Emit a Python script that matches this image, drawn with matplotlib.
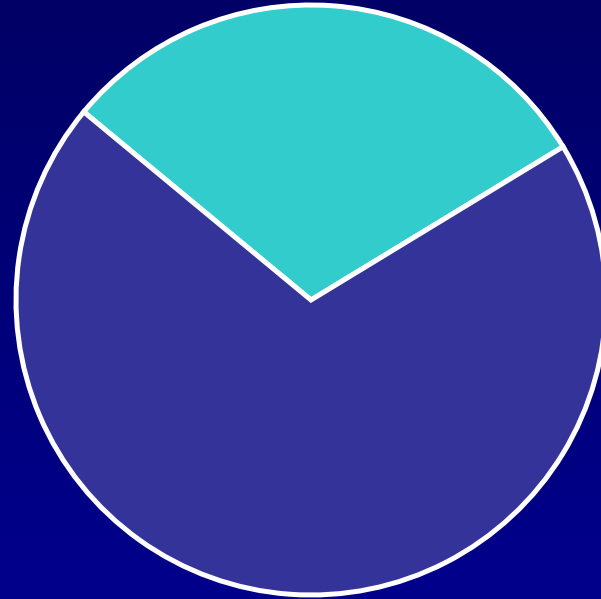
import numpy as np
import matplotlib.pyplot as plt
from matplotlib.colors import LinearSegmentedColormap

# slice shares and colours
labels = ['A', 'B']
shares = [30.3, 69.7]
colors = ['#33cccc', '#333399']

fig = plt.figure(figsize=(6.01, 5.99), dpi=100)
ax = fig.add_axes([0, 0, 1, 1])

# vertical background gradient, dark navy at top to blue at bottom
bg = LinearSegmentedColormap.from_list('bg', ['#00008c', '#000066'])
grad = np.linspace(0, 1, 256).reshape(-1, 1)
ax.imshow(grad, cmap=bg, extent=[0, 601, 0, 599], origin='lower',
          aspect='auto', zorder=0)

ax.pie(shares, colors=colors, startangle=31.3, center=(311, 299), radius=295,
       wedgeprops={'edgecolor': 'white', 'linewidth': 3.6}, frame=True)
ax.set_xlim(0, 601)
ax.set_ylim(0, 599)
ax.set_aspect('equal')
ax.axis('off')

fig.savefig('out.png', dpi=100)
